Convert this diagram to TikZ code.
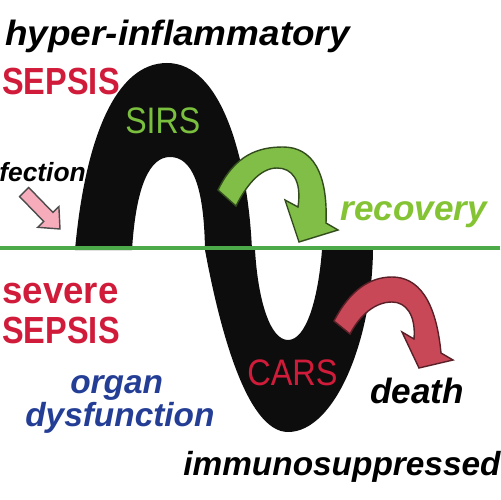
\documentclass[tikz,border=0pt]{standalone}
\usepackage{fontspec}
\setmainfont{Liberation Sans}
\definecolor{sepred}{RGB}{208,28,58}
\definecolor{sirsgreen}{RGB}{122,192,62}
\definecolor{recgreen}{RGB}{132,196,52}
\definecolor{linegreen}{RGB}{76,170,72}
\definecolor{arrgreen}{RGB}{128,190,72}
\definecolor{arrred}{RGB}{200,72,88}
\definecolor{orgblue}{RGB}{36,62,150}
\definecolor{infpink}{RGB}{246,172,186}
\begin{document}
\begin{tikzpicture}[x=.02cm,y=-.02cm,
  txt/.style={inner sep=0,anchor=base west},
  bi/.style={txt,font=\fontsize{20}{24}\selectfont\bfseries\itshape},
  bd/.style={txt,font=\fontsize{21.5}{25}\selectfont\bfseries,text=sepred},
  rg/.style={txt,font=\fontsize{21}{25}\selectfont}]
  \useasboundingbox (0,0) rectangle (500,500);
  \fill[black!95] (75,250) .. controls (85,140) and (115,63) .. (167,63) .. controls (222,63) and (248,160) .. (252,250) -- (255,250) .. controls (258,300) and (270,340) .. (288,340) .. controls (306,340) and (318,300) .. (322,250) -- (373,250) .. controls (372,340) and (335,432) .. (288,432) .. controls (245,432) and (218,320) .. (205,250) .. controls (204,185) and (192,157) .. (170,157) .. controls (150,157) and (136,185) .. (132,250) -- cycle;
  \draw[linegreen,line width=2.6pt] (0,248) -- (500,248);
  \filldraw[arrgreen,draw=arrgreen!40!black,line width=.8pt] (218,190) .. controls (235,155) and (258,147) .. (283,147) .. controls (312,147) and (328,172) .. (326,223) -- (338,230) -- (299,242) -- (285,200) -- (298,207) .. controls (302,180) and (292,168) .. (277,168) .. controls (260,168) and (246,186) .. (236,206) -- cycle;
  \filldraw[arrred,draw=arrred!45!black,line width=.8pt] (334,321) .. controls (350,290) and (370,277) .. (392,277) .. controls (418,277) and (436,300) .. (441,353) -- (453,360) -- (419,368) -- (402,332) -- (414,339) .. controls (416,315) and (406,302) .. (392,302) .. controls (375,302) and (360,315) .. (350,334) -- cycle;
  \filldraw[infpink,draw=black!70,line width=.8pt] (19.5,196.5) -- (28.7,187.5) -- (52.9,212.4) -- (58.9,206.6) -- (60,229) -- (37.7,227.3) -- (43.7,221.4) -- cycle;
  \node[bi,xscale=1.05] (hyper) at (5,46) {hyper-inflammatory};
  \node[bd,xscale=.86] (sepsis) at (2,94) {SEPSIS};
  \node[rg,xscale=.87,text=sirsgreen] (sirs) at (125,133) {SIRS};
  \node[bi,font=\fontsize{15}{18}\selectfont\bfseries\itshape] (infect) at (-1,181) {fection};
  \node[bi,text=recgreen] (recov) at (340,220) {recovery};
  \node[bd,xscale=.97] (severe) at (2,303) {severe};
  \node[bd,xscale=.86] (sepsis2) at (2,343) {SEPSIS};
  \node[bi,font=\fontsize{19}{23}\selectfont\bfseries\itshape,text=orgblue] (organ) at (70,393) {organ};
  \node[bi,font=\fontsize{19}{23}\selectfont\bfseries\itshape,text=orgblue] (dysf) at (25,426) {dysfunction};
  \node[rg,xscale=.88,text=sepred] (cars) at (247,385) {CARS};
  \node[bi] (death) at (370,403) {death};
  \node[bi,font=\fontsize{19}{23}\selectfont\bfseries\itshape] (immuno) at (183,475) {immunosuppressed};
\end{tikzpicture}
\end{document}
